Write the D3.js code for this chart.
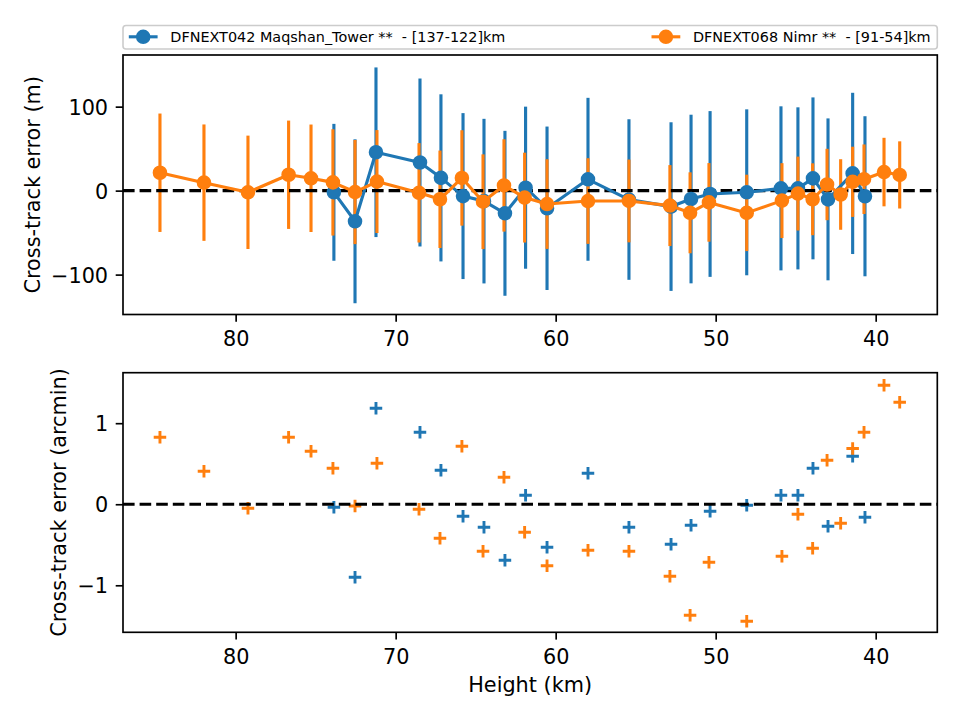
<!DOCTYPE html>
<html>
<head>
<meta charset="utf-8">
<script src="https://cdn.jsdelivr.net/npm/d3@7"></script>
<style>
  body { margin: 0; background: #fff; }
  text { font-family: "DejaVu Sans", sans-serif; }
</style>
</head>
<body>
<svg id="chart" width="960" height="720"></svg>
<script>
// ---------------- DATA ----------------
const seriesNames = ["DFNEXT042 Maqshan_Tower **  - [137-122]km", "DFNEXT068 Nimr **  - [91-54]km"];
const seriesColors = ["#1f77b4", "#ff7f0e"];

// Series 1 (DFNEXT042)
const blueHeight = [73.86, 72.54, 71.23, 68.48, 67.17, 65.79, 64.48, 63.17, 61.88, 60.54, 57.98,
                    55.42, 52.79, 51.54, 50.35, 48.06, 45.92, 44.86, 43.92, 42.98, 41.44, 40.67];
const blueErrM = [-2, -36.5, 45.7, 33.5, 15.2, -6.5, -12.5, -27, 3.5, -21, 13.5,
                  -10.6, -19, -10, -4, -2, 2.7, 2.7, 14.6, -10.4, 20.5, -6.7];
const blueSigmaM = [81.5, 97.6, 101, 100, 99.5, 98.8, 98, 98.2, 96.5, 97.3, 97,
                    95.6, 100.4, 100.4, 98.7, 98.8, 97.7, 96.5, 96.4, 96.4, 96, 95.3];
const blueErrArcmin = [-0.037, -0.90, 1.185, 0.889, 0.42, -0.148, -0.284, -0.691, 0.111, -0.531, 0.383,
                       -0.284, -0.494, -0.259, -0.086, -0.012, 0.111, 0.111, 0.444, -0.272, 0.593, -0.16];

// Series 2 (DFNEXT068)
const orangeHeight = [84.73, 81.98, 79.23, 76.69, 75.29, 73.92, 72.54, 71.17, 68.54, 67.23, 65.86,
                      64.54, 63.23, 61.94, 60.54, 57.98, 55.42, 52.86, 51.6, 50.42, 48.06, 45.86,
                      44.86, 43.94, 43.04, 42.19, 41.44, 40.73, 39.48, 38.5];
const orangeErrM = [21.3, 9.5, -2, 18.9, 14.7, 9.8, -1.7, 10.8, -2.6, -10.3, 15.1,
                    -13.2, 6.2, -8.3, -16, -12.4, -12.3, -17.8, -26.4, -14, -26.5, -11.9,
                    -3.5, -10.3, 7.3, -4.6, 10.5, 13.6, 22.1, 18.7];
const orangeSigmaM = [70.5, 69.3, 67.5, 64.5, 64, 63.3, 62, 61.3, 59.2, 58, 56.8,
                      56.4, 55, 53.5, 53.4, 51, 49.3, 48.2, 48.2, 46.8, 45.5, 44.6,
                      44, 42.8, 42.5, 42, 41.8, 41.4, 40.8, 40];
const orangeErrArcmin = [0.827, 0.407, -0.05, 0.827, 0.654, 0.444, -0.021, 0.506, -0.062, -0.42, 0.716,
                         -0.58, 0.333, -0.346, -0.758, -0.568, -0.58, -0.889, -1.37, -0.716, -1.444, -0.642,
                         -0.123, -0.543, 0.543, -0.235, 0.687, 0.889, 1.469, 1.259];

const xTicks = [80, 70, 60, 50, 40];
const yTicksTop = [-100, 0, 100];
const yTicksBottom = [-1, 0, 1];
const xLabel = "Height (km)";
const yLabelTop = "Cross-track error (m)";
const yLabelBottom = "Cross-track error (arcmin)";

// ---------------- LAYOUT ----------------
const svg = d3.select("#chart");
svg.append("rect").attr("width", 960).attr("height", 720).attr("fill", "#fff");

const L = 123, R = 937.3;
const T1 = 55, B1 = 314.5, T2 = 372.7, B2 = 632.3;
const FS = 20.8, LW = 3.125, SPINE = 1.67, TICK = 7.3;

const x = d3.scaleLinear().domain([87.04, 36.15]).range([L, R]);
const y1 = d3.scaleLinear().domain([-147.5, 161.5]).range([B1, T1]);
const y2 = d3.scaleLinear().domain([-1.58, 1.623]).range([B2, T2]);

const fmt = v => (v < 0 ? "\u2212" : "") + Math.abs(v);

function makeSeries(h, v, e) { return h.map((d, i) => ({h: d, v: v[i], e: e ? e[i] : 0})); }
const blueTop = makeSeries(blueHeight, blueErrM, blueSigmaM);
const orangeTop = makeSeries(orangeHeight, orangeErrM, orangeSigmaM);
const blueBot = makeSeries(blueHeight, blueErrArcmin);
const orangeBot = makeSeries(orangeHeight, orangeErrArcmin);

// ---------------- TOP PANEL ----------------
const gTop = svg.append("g");
[[blueTop, 0], [orangeTop, 1]].forEach(([data, k]) => {
  gTop.append("g").selectAll("line").data(data).join("line")
    .attr("x1", d => x(d.h)).attr("x2", d => x(d.h))
    .attr("y1", d => y1(d.v - d.e)).attr("y2", d => y1(d.v + d.e))
    .attr("stroke", seriesColors[k]).attr("stroke-width", LW);
});
gTop.append("line")
  .attr("x1", L).attr("x2", R).attr("y1", y1(0)).attr("y2", y1(0))
  .attr("stroke", "#000").attr("stroke-width", LW).attr("stroke-dasharray", "11.6,5");
const line1 = d3.line().x(d => x(d.h)).y(d => y1(d.v));
[[blueTop, 0], [orangeTop, 1]].forEach(([data, k]) => {
  gTop.append("path").datum(data).attr("d", line1)
    .attr("fill", "none").attr("stroke", seriesColors[k]).attr("stroke-width", LW)
    .attr("stroke-linejoin", "round");
  gTop.append("g").selectAll("circle").data(data).join("circle")
    .attr("cx", d => x(d.h)).attr("cy", d => y1(d.v)).attr("r", 6.25)
    .attr("fill", seriesColors[k]).attr("stroke", seriesColors[k]).attr("stroke-width", 2.08);
});

// ---------------- BOTTOM PANEL ----------------
const gBot = svg.append("g");
const plusPath = "M-6.25,0H6.25M0,-6.25V6.25";
[[blueBot, 0], [orangeBot, 1]].forEach(([data, k]) => {
  gBot.append("g").selectAll("path").data(data).join("path")
    .attr("transform", d => `translate(${x(d.h)},${y2(d.v)})`)
    .attr("d", plusPath).attr("fill", "none")
    .attr("stroke", seriesColors[k]).attr("stroke-width", 2.9);
});
gBot.append("line")
  .attr("x1", L).attr("x2", R).attr("y1", y2(0)).attr("y2", y2(0))
  .attr("stroke", "#000").attr("stroke-width", LW).attr("stroke-dasharray", "11.6,5");

// ---------------- AXES ----------------
function drawAxes(yScale, yTicks, top, bottom) {
  const gx = svg.append("g").attr("transform", `translate(0,${bottom})`)
    .call(d3.axisBottom(x).tickValues(xTicks).tickFormat(fmt).tickSize(TICK).tickSizeOuter(0));
  gx.select(".domain").remove();
  gx.selectAll(".tick line").attr("stroke", "#000").attr("stroke-width", SPINE);
  gx.selectAll(".tick text").attr("y", 31.3).attr("dy", null)
    .attr("font-size", FS).attr("fill", "#000").attr("font-family", "DejaVu Sans");

  const gy = svg.append("g").attr("transform", `translate(${L},0)`)
    .call(d3.axisLeft(yScale).tickValues(yTicks).tickFormat(fmt).tickSize(TICK).tickPadding(7.6).tickSizeOuter(0));
  gy.select(".domain").remove();
  gy.selectAll(".tick line").attr("stroke", "#000").attr("stroke-width", SPINE);
  gy.selectAll(".tick text").attr("dy", "0.36em")
    .attr("font-size", FS).attr("fill", "#000").attr("font-family", "DejaVu Sans");

  svg.append("rect").attr("x", L).attr("y", top).attr("width", R - L).attr("height", bottom - top)
    .attr("fill", "none").attr("stroke", "#000").attr("stroke-width", SPINE);
}
drawAxes(y1, yTicksTop, T1, B1);
drawAxes(y2, yTicksBottom, T2, B2);

// Axis labels
svg.append("text").attr("transform", `translate(39.5,${(T1 + B1) / 2}) rotate(-90)`)
  .attr("text-anchor", "middle").attr("font-size", FS).attr("fill", "#000").text(yLabelTop);
svg.append("text").attr("transform", `translate(66,${(T2 + B2) / 2}) rotate(-90)`)
  .attr("text-anchor", "middle").attr("font-size", FS).attr("fill", "#000").text(yLabelBottom);
svg.append("text").attr("x", (L + R) / 2).attr("y", 692)
  .attr("text-anchor", "middle").attr("font-size", FS).attr("fill", "#000").text(xLabel);

// ---------------- LEGEND ----------------
const LFS = 14.4;
const lg = svg.append("g");
lg.append("rect").attr("x", L).attr("y", 25.5).attr("width", R - L).attr("height", 23.5)
  .attr("rx", 3).attr("fill", "#fff").attr("fill-opacity", 0.8)
  .attr("stroke", "#cccccc").attr("stroke-width", 1.6);
const legendPos = [{hx: 128.8, tx: 170.3}, {hx: 651.5, tx: 693}];
seriesNames.forEach((name, k) => {
  const p = legendPos[k], cy = 36.8;
  lg.append("line").attr("x1", p.hx).attr("x2", p.hx + 28.8).attr("y1", cy).attr("y2", cy)
    .attr("stroke", seriesColors[k]).attr("stroke-width", LW);
  lg.append("circle").attr("cx", p.hx + 14.4).attr("cy", cy).attr("r", 6.25)
    .attr("fill", seriesColors[k]).attr("stroke", seriesColors[k]).attr("stroke-width", 2.08);
  lg.append("text").attr("x", p.tx).attr("y", cy + 5.2).attr("font-size", LFS)
    .attr("fill", "#000").style("white-space", "pre").text(name);
});
</script>
</body>
</html>
